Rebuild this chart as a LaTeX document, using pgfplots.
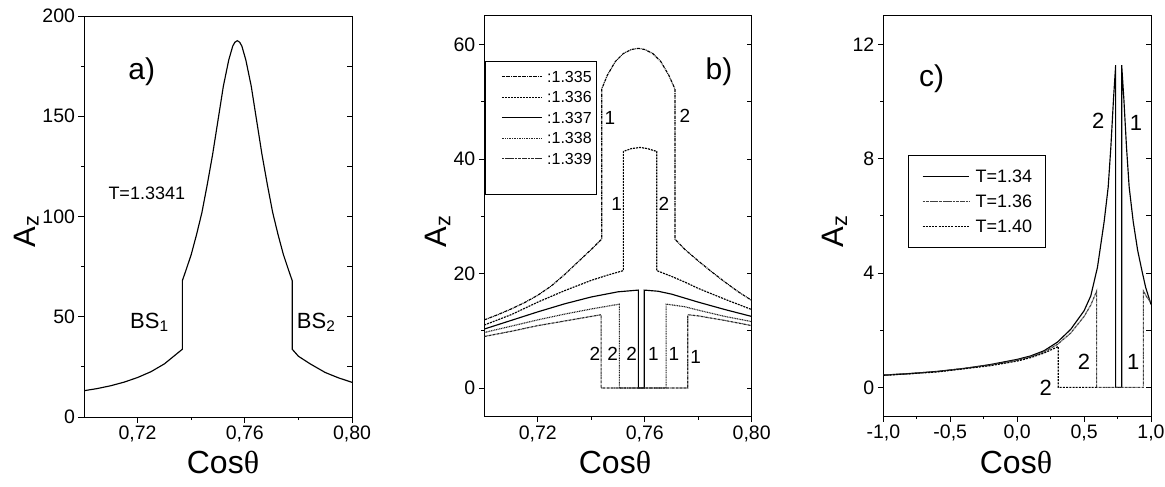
\documentclass[border=0pt]{standalone}
\usepackage{fontspec}
\setmainfont{Liberation Sans}
\newfontfamily\grk{Liberation Serif}
\usepackage{pgfplots}
\pgfplotsset{compat=1.18}

\pgfplotsset{
  panel/.style={
    scale only axis, anchor=north west,
    axis line style={line width=0.9pt},
    every tick/.style={black, line width=0.8pt},
    major tick length=5.5pt, minor tick length=3pt,
    tick align=outside, xtick pos=bottom, ytick pos=left,
    scaled ticks=false,
    tick label style={font=\fontsize{19.5}{19.5}\selectfont},
    /pgf/number format/assume math mode=true,
    xticklabel style={/pgf/number format/.cd, fixed, fixed zerofill, use comma},
    yticklabel style={/pgf/number format/.cd, fixed, precision=0},
  },
  rightax/.style={
    scale only axis, anchor=north west,
    hide x axis, axis y line*=right,
    axis line style={line width=0.9pt},
    every tick/.style={black, line width=0.8pt},
    major tick length=5pt, minor tick length=5pt,
    tick align=inside, yticklabels={},
  },
  curve/.style={black, line width=1.15pt},
}
\tikzset{lbl/.style={font=\fontsize{#1}{#1}\selectfont, inner sep=0pt}}

\begin{document}
\begin{tikzpicture}
\useasboundingbox (0pt,0pt) rectangle (1165pt,-487pt);

% ---------- a) ----------
\begin{axis}[panel, at={(84pt,-16pt)}, width=268pt, height=401pt,
  xmin=0.70, xmax=0.80, ymin=0, ymax=200,
  xtick={0.72,0.76,0.80}, minor xtick={0.74,0.78},
  ytick={0,50,100,150,200}, minor ytick={25,75,125,175},
  xticklabel style={/pgf/number format/precision=2}]
\addplot[curve] coordinates {
 (0.700,13.1)(0.705,14.2)(0.710,15.6)(0.715,17.4)(0.720,19.7)(0.725,22.6)
 (0.730,26.5)(0.7367,33.8)(0.7367,68)(0.738,73)(0.740,81)(0.742,91)
 (0.744,102)(0.746,116)(0.748,131)(0.750,148)(0.752,165)(0.754,178)
 (0.7555,185)(0.7563,186.9)(0.7572,187.7)(0.7581,186.9)(0.7589,185)
 (0.7604,178)(0.7624,165)(0.7644,148)(0.7664,131)(0.7684,116)(0.7704,102)
 (0.7724,91)(0.7744,81)(0.7764,73)(0.7777,68)(0.7777,33.8)(0.780,30.3)
 (0.7844,26.5)(0.790,22.2)(0.795,19.5)(0.800,17.3)};
\end{axis}
\begin{axis}[rightax, at={(84pt,-16pt)}, width=268pt, height=401pt,
  xmin=0.70, xmax=0.80, ymin=0, ymax=200,
  ytick={0,50,100,150,200}, minor ytick={25,75,125,175}]
\end{axis}

% ---------- b) ----------
\begin{axis}[panel, at={(484.3pt,-15.7pt)}, width=267.4pt, height=401pt,
  xmin=0.70, xmax=0.80, ymin=-5, ymax=65,
  xtick={0.72,0.76,0.80}, minor xtick={0.74,0.78},
  ytick={0,20,40,60}, minor ytick={10,30,50},
  xticklabel style={/pgf/number format/precision=2},
  legend cell align=left,
  legend style={at={(axis description cs:0.003,0.888)}, anchor=north west,
    draw=black, line width=0.8pt, inner xsep=5pt, inner ysep=10pt,
    row sep=9.5pt, column sep=4.7pt, font=\fontsize{16}{16}\selectfont,
    nodes={inner sep=0pt, text height=11pt, text depth=0pt}},
  legend image code/.code={\path (0pt,0pt); \draw[#1, line width=0.8pt] (10.7pt,0pt) -- (51pt,0pt);}]
\addplot[curve, dash pattern=on 3pt off 0.8pt on 0.8pt off 0.8pt] coordinates {
 (0.700,11.9)(0.705,12.8)(0.710,13.8)(0.715,14.9)(0.720,16.2)(0.725,17.8)
 (0.730,19.8)(0.735,22.0)(0.740,24.2)(0.7439,26.0)(0.7439,52.2)(0.746,54.6)
 (0.749,57.0)(0.752,58.4)(0.755,59.1)(0.7576,59.3)(0.760,59.1)(0.763,58.4)
 (0.766,57.0)(0.769,54.6)(0.7713,52.2)(0.7713,26.0)(0.775,24.2)(0.780,22.2)
 (0.785,20.3)(0.790,18.5)(0.795,16.8)(0.800,15.3)};
\addlegendentry{:1.335}
\addplot[curve, dash pattern=on 2pt off 1pt] coordinates {
 (0.700,11.0)(0.710,12.8)(0.720,15.0)(0.730,17.0)(0.740,18.8)(0.746,19.7)
 (0.752,20.5)(0.752,41.3)(0.755,41.8)(0.7583,42.0)(0.761,41.8)(0.7645,41.3)
 (0.7645,20.5)(0.770,19.5)(0.775,18.5)(0.780,17.4)(0.790,15.5)(0.800,13.7)};
\addlegendentry{:1.336}
\addplot[curve] coordinates {
 (0.700,10.3)(0.710,11.8)(0.720,13.3)(0.730,14.7)(0.740,15.9)(0.750,16.8)
 (0.7576,17.1)(0.7576,0)(0.7598,0)(0.7598,17.1)(0.765,16.9)(0.770,16.4)
 (0.780,15.0)(0.790,13.7)(0.800,12.5)};
\addlegendentry{:1.337}
\addplot[curve, black!85, dash pattern=on 1pt off 0.7pt] coordinates {
 (0.700,9.7)(0.710,10.8)(0.720,11.9)(0.730,12.9)(0.740,13.8)(0.7505,14.65)
 (0.7505,0)(0.7680,0)(0.7680,14.65)(0.775,14.2)(0.780,13.6)(0.790,12.5)
 (0.800,11.6)};
\addlegendentry{:1.338}
\addplot[curve, black!85, dash pattern=on 2.5pt off 0.6pt on 0.6pt off 0.6pt] coordinates {
 (0.700,9.0)(0.710,9.9)(0.720,10.9)(0.730,11.7)(0.7437,12.8)(0.7437,0)
 (0.7761,0)(0.7761,12.8)(0.780,12.6)(0.790,11.8)(0.800,10.9)};
\addlegendentry{:1.339}
\addlegendimage{empty legend}
\addlegendentry{}
\end{axis}
\begin{axis}[rightax, at={(484.3pt,-15.7pt)}, width=267.4pt, height=401pt,
  xmin=0.70, xmax=0.80, ymin=-5, ymax=65,
  ytick={0,20,40,60}, minor ytick={10,30,50}]
\end{axis}

% ---------- c) ----------
\begin{axis}[panel, at={(883.3pt,-15.7pt)}, width=267.7pt, height=400.3pt,
  xmin=-1, xmax=1, ymin=-1, ymax=13,
  xtick={-1,-0.5,0,0.5,1}, minor xtick={-0.75,-0.25,0.25,0.75},
  ytick={0,4,8,12}, minor ytick={2,6,10},
  xticklabel style={/pgf/number format/precision=1},
  legend cell align=left,
  legend style={at={(axis description cs:0.0934,0.652)}, anchor=north west,
    draw=black, line width=0.8pt, inner xsep=13.4pt, inner ysep=14.5pt,
    row sep=12.5pt, column sep=6pt, font=\fontsize{18}{18}\selectfont,
    nodes={inner sep=0pt, text height=12.5pt, text depth=0pt}},
  legend image code/.code={\draw[#1, line width=0.8pt] (0pt,0pt) -- (46.6pt,0pt);}]
\addplot[curve] coordinates {
 (-1.0,0.43)(-0.8,0.48)(-0.6,0.56)(-0.4,0.66)(-0.2,0.80)(0.0,0.98)(0.1,1.10)
 (0.2,1.28)(0.3,1.58)(0.4,2.03)(0.5,2.68)(0.55,3.2)(0.6,4.2)(0.65,5.8)
 (0.68,7.0)(0.70,8.4)(0.72,10.1)(0.736,11.27)(0.736,0)(0.781,0)(0.781,11.27)
 (0.797,10.1)(0.817,8.4)(0.837,7.0)(0.867,5.8)(0.90,4.8)(0.93,4.13)
 (0.96,3.5)(1.0,2.9)};
\addlegendentry{T=1.34}
\addplot[curve, black!75, dash pattern=on 2.5pt off 0.6pt on 0.6pt off 0.6pt] coordinates {
 (-1.0,0.43)(-0.6,0.55)(-0.2,0.78)(0.0,0.95)(0.1,1.07)(0.2,1.24)(0.3,1.50)
 (0.4,1.90)(0.5,2.48)(0.55,2.88)(0.594,3.37)(0.594,0)(0.943,0)(0.943,3.37)
 (0.97,3.15)(1.0,2.97)};
\addlegendentry{T=1.36}
\addplot[curve, dash pattern=on 2pt off 1.2pt] coordinates {
 (-1.0,0.42)(-0.6,0.54)(-0.2,0.76)(0.0,0.92)(0.1,1.04)(0.2,1.20)(0.3075,1.43)
 (0.3075,0)(0.594,0)};
\addlegendentry{T=1.40}
\end{axis}
\begin{axis}[rightax, at={(883.3pt,-15.7pt)}, width=267.7pt, height=400.3pt,
  xmin=-1, xmax=1, ymin=-1, ymax=13,
  ytick={0,4,8,12}, minor ytick={2,6,10}]
\end{axis}

% ---------- labels ----------
\foreach \xx in {223,615,1016} {
  \node[lbl=32, anchor=base] at (\xx pt,-473pt) {Cos{\grk θ}};
}
\foreach \xx in {35,446.7,843.3} {
  \node[lbl=31, anchor=base, rotate=90] at (\xx pt,-231pt) {A\textsubscript{z}};
}
\node[lbl=30] at (141.7pt,-71.7pt) {a)};
\node[lbl=18, anchor=base west] at (108.3pt,-199.3pt) {T=1.3341};
\node[lbl=22, anchor=base west] at (130pt,-328.3pt) {BS\textsubscript{1}};
\node[lbl=22, anchor=base west] at (296.7pt,-328.3pt) {BS\textsubscript{2}};

\node[lbl=30] at (719pt,-71.7pt) {b)};
\node[lbl=19] at (610pt,-117.7pt) {1};
\node[lbl=19] at (685pt,-116pt) {2};
\node[lbl=19] at (616.7pt,-204pt) {1};
\node[lbl=19] at (664pt,-204pt) {2};
\node[lbl=19] at (595pt,-354pt) {2};
\node[lbl=19] at (612.7pt,-354pt) {2};
\node[lbl=19] at (631.7pt,-354pt) {2};
\node[lbl=19] at (653.3pt,-354pt) {1};
\node[lbl=19] at (674pt,-354pt) {1};
\node[lbl=19] at (695.7pt,-356.7pt) {1};

\node[lbl=30] at (931.7pt,-78.3pt) {c)};
\node[lbl=22] at (1098.3pt,-120.7pt) {2};
\node[lbl=22] at (1136pt,-123.3pt) {1};
\node[lbl=22] at (1084pt,-361.7pt) {2};
\node[lbl=22] at (1133.3pt,-361.7pt) {1};
\node[lbl=22] at (1045.7pt,-388.3pt) {2};
\end{tikzpicture}
\end{document}
